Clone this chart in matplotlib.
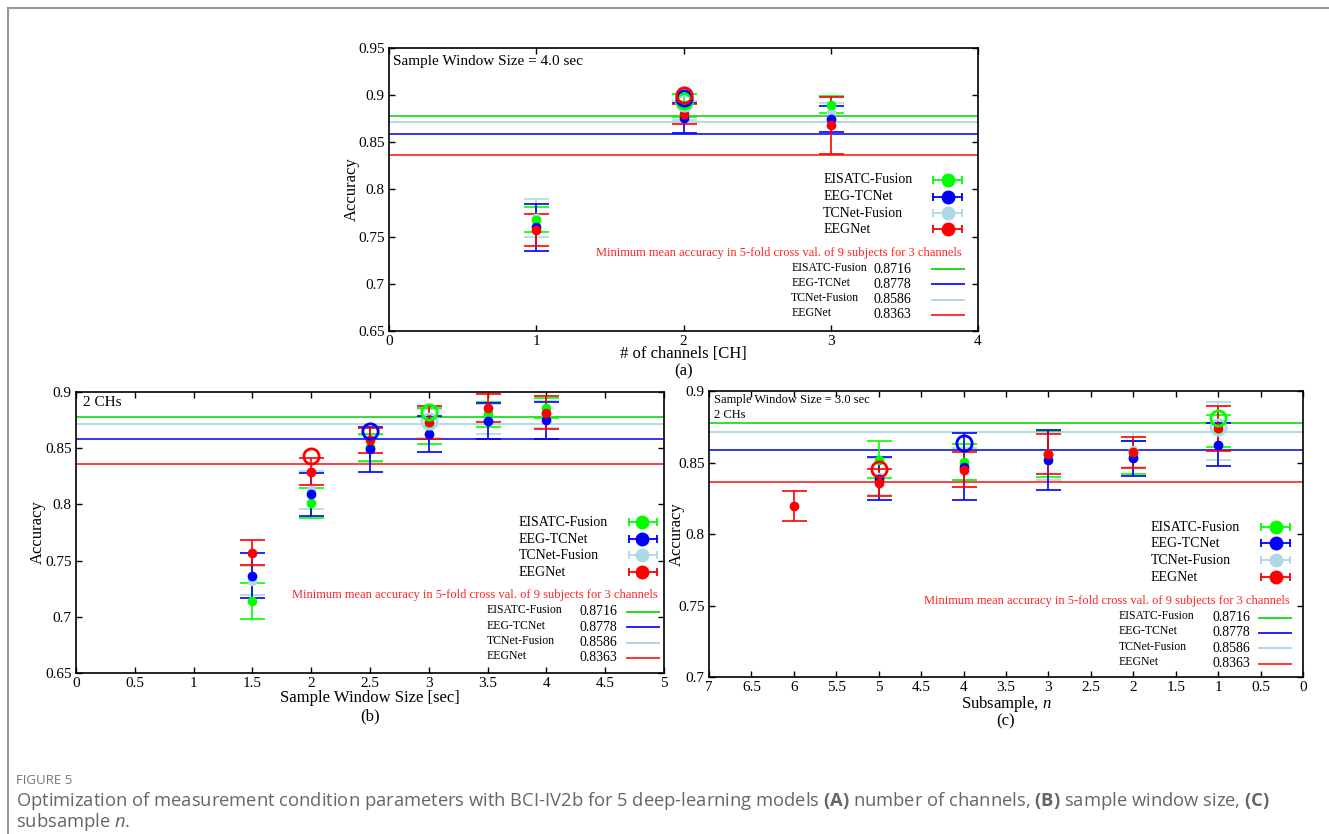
"""
Recreation of the three-panel accuracy figure (channels / window size / subsample)
with min-accuracy reference lines and gnuplot-like keys.
"""
import matplotlib.pyplot as plt
from matplotlib.lines import Line2D

plt.rcParams['font.family'] = ['Liberation Serif', 'DejaVu Serif']
plt.rcParams['mathtext.fontset'] = 'custom'
plt.rcParams['mathtext.it'] = 'Liberation Serif:italic'
plt.rcParams['mathtext.bf'] = 'Open Sans:bold'
plt.rcParams['mathtext.sf'] = 'Open Sans:italic'

# ---------------- data ----------------
models = ["EISATC-Fusion", "EEG-TCNet", "TCNet-Fusion", "EEGNet"]
colors = ["#00ff00", "#0000ff", "#add8e6", "#ff0000"]
line_colors = ["#22dd22", "#2222ff", "#add8e6", "#ff3333"]

# minimum mean accuracy lines as drawn (model order) and values printed in the key
line_levels = [0.8778, 0.8586, 0.8716, 0.8363]
key_values = ["0.8716", "0.8778", "0.8586", "0.8363"]
key_title = "Minimum mean accuracy in 5-fold cross val. of 9 subjects for 3 channels"

# (a) number of channels, window 4.0 s
ch = [1, 2, 3]
a_eisatc = [0.768, 0.889, 0.890]
a_eisatc_err = [0.013, 0.012, 0.009]
a_eegtcnet = [0.760, 0.8755, 0.875]
a_eegtcnet_err = [0.025, 0.016, 0.014]
a_tcnetfus = [0.770, 0.884, 0.882]
a_tcnetfus_err = [0.020, 0.010, 0.010]
a_eegnet = [0.757, 0.880, 0.868]
a_eegnet_err = [0.017, 0.011, 0.030]
a_best_x = [2, 2, 2, 2]
a_best_y = [0.8936, 0.8972, 0.8912, 0.8997]

# (b) sample window size, 2 channels
sws = [1.5, 2, 2.5, 3, 3.5, 4]
b_eisatc = [0.714, 0.801, 0.851, 0.870, 0.880, 0.8855]
b_eisatc_err = [0.016, 0.0135, 0.012, 0.016, 0.011, 0.009]
b_eegtcnet = [0.7366, 0.809, 0.849, 0.8626, 0.8745, 0.875]
b_eegtcnet_err = [0.020, 0.019, 0.020, 0.016, 0.016, 0.0165]
b_tcnetfus = [0.732, 0.813, 0.850, 0.872, 0.876, 0.880]
b_tcnetfus_err = [0.013, 0.017, 0.012, 0.013, 0.013, 0.012]
b_eegnet = [0.757, 0.829, 0.857, 0.873, 0.8855, 0.8816]
b_eegnet_err = [0.011, 0.012, 0.011, 0.0145, 0.0125, 0.0145]
b_best_x = [3, 2.5, 3, 2]
b_best_y = [0.882, 0.8656, 0.8745, 0.843]

# (c) subsample n, window 3.0 s, 2 channels
sub = [5, 4, 3, 2, 1]
sub_eegnet = [6, 5, 4, 3, 2, 1]
c_eisatc = [0.852, 0.8505, 0.856, 0.8535, 0.872]
c_eisatc_err = [0.013, 0.0125, 0.016, 0.0116, 0.011]
c_eegtcnet = [0.8385, 0.847, 0.8517, 0.8528, 0.8625]
c_eegtcnet_err = [0.015, 0.0234, 0.021, 0.0125, 0.015]
c_tcnetfus = [0.840, 0.849, 0.855, 0.859, 0.872]
c_tcnetfus_err = [0.013, 0.011, 0.017, 0.012, 0.020]
c_eegnet = [0.8197, 0.836, 0.845, 0.8559, 0.857, 0.8738]
c_eegnet_err = [0.0107, 0.0095, 0.012, 0.014, 0.011, 0.0157]
c_best_x = [1, 4, 1, 5]
c_best_y = [0.8809, 0.8636, 0.875, 0.8458]

caption_head = "FIGURE 5"
caption_1 = ("Optimization of measurement condition parameters with BCI-IV2b for 5 "
             "deep-learning models $\\mathbf{(A)}$ number of channels, "
             "$\\mathbf{(B)}$ sample window size, $\\mathbf{(C)}$")
caption_2 = "subsample $\\mathsf{n}$."


def draw_key(ax, k):
    """gnuplot-like key: model symbols, red title, then min-accuracy lines"""
    for i, name in enumerate(models):
        y = k['rows'][i]
        ax.text(k['text_x'], y, name, transform=ax.transAxes, fontsize=10,
                ha='left', va='center')
        ax.plot(k['bar'], [y, y], color=colors[i], lw=1.3, transform=ax.transAxes,
                clip_on=False)
        ax.plot(k['bar'], [y, y], ls='none', marker='|', ms=6, mew=1.3,
                color=colors[i], transform=ax.transAxes, clip_on=False)
        ax.plot([k['dot']], [y], 'o', ms=9, color=colors[i], transform=ax.transAxes,
                clip_on=False)
    ax.text(k['red_x'], k['red_y'], key_title, transform=ax.transAxes, fontsize=9,
            color='#ff2222', ha='right', va='center')
    for i, name in enumerate(models):
        y = k['lrows'][i]
        ax.text(k['name_x'], y + 0.006, name, transform=ax.transAxes, fontsize=8.5,
                ha='left', va='center')
        ax.text(k['value_x'], y, key_values[i], transform=ax.transAxes, fontsize=10,
                ha='left', va='center')
        ax.plot(k['sample'], [y, y], color=line_colors[i], lw=1.4,
                transform=ax.transAxes, clip_on=False)


def draw_panel(ax, series, best_x, best_y):
    for lvl, c in zip(line_levels, line_colors):
        ax.axhline(lvl, color=c, lw=1.3, zorder=1)
    # light blue first so it sits underneath
    for i in [2, 0, 1, 3]:
        x, y, e = series[i]
        ax.errorbar(x, y, yerr=e, fmt='o', color=colors[i], ms=6, capsize=9,
                    elinewidth=1.2, capthick=1.2, zorder=3)
    for i in [2, 0, 1, 3]:
        ax.plot(best_x[i], best_y[i], 'o', ms=11, mfc='none', mec=colors[i],
                mew=2, zorder=4)
    ax.tick_params(direction='in', top=True, right=True, length=4, width=1,
                   labelsize=11, pad=3)
    for s in ax.spines.values():
        s.set_linewidth(1.2)


def fmt(v):
    return f"{v:g}"


fig = plt.figure(figsize=(13.29, 8.34), dpi=100)

# outer frame (left and top only)
fig.add_artist(Line2D([8 / 1329, 8 / 1329], [0, 1 - 8 / 834], color='#999999', lw=1.5))
fig.add_artist(Line2D([8 / 1329, 1], [1 - 8 / 834, 1 - 8 / 834], color='#999999', lw=1.5))

# ---- (a) ----
ax_a = fig.add_axes([389 / 1329, 1 - 331 / 834, 589 / 1329, 283 / 834])
draw_panel(ax_a, [(ch, a_eisatc, a_eisatc_err), (ch, a_eegtcnet, a_eegtcnet_err),
                  (ch, a_tcnetfus, a_tcnetfus_err), (ch, a_eegnet, a_eegnet_err)],
           a_best_x, a_best_y)
ax_a.set_xlim(0, 4)
ax_a.set_ylim(0.65, 0.95)
ax_a.set_xticks([0, 1, 2, 3, 4])
yt = [0.65, 0.7, 0.75, 0.8, 0.85, 0.9, 0.95]
ax_a.set_yticks(yt)
ax_a.set_yticklabels([fmt(v) for v in yt])
ax_a.set_xlabel("# of channels [CH]", fontsize=12)
ax_a.xaxis.label.set_va('center')
ax_a.xaxis.set_label_coords(0.5, -0.08)
ax_a.set_ylabel("Accuracy", fontsize=12)
ax_a.yaxis.label.set_va('center')
ax_a.yaxis.set_label_coords(-0.063, 0.5)
ax_a.text(0.5, -0.142, "(a)", transform=ax_a.transAxes, ha='center', va='center',
          fontsize=12)
ax_a.text(0.007, 0.952, "Sample Window Size = 4.0 sec", transform=ax_a.transAxes,
          fontsize=11, ha='left', va='center')
draw_key(ax_a, dict(text_x=0.737, bar=[0.924, 0.973], dot=0.949,
                    rows=[0.534, 0.475, 0.416, 0.359], red_x=0.973, red_y=0.277,
                    name_x=0.683, value_x=0.823, sample=[0.922, 0.976],
                    lrows=[0.218, 0.165, 0.110, 0.057]))

# ---- (b) ----
ax_b = fig.add_axes([76 / 1329, 1 - 673 / 834, 588 / 1329, 281 / 834])
draw_panel(ax_b, [(sws, b_eisatc, b_eisatc_err), (sws, b_eegtcnet, b_eegtcnet_err),
                  (sws, b_tcnetfus, b_tcnetfus_err), (sws, b_eegnet, b_eegnet_err)],
           b_best_x, b_best_y)
ax_b.set_xlim(0, 5)
ax_b.set_ylim(0.65, 0.9)
xt = [0, 0.5, 1, 1.5, 2, 2.5, 3, 3.5, 4, 4.5, 5]
ax_b.set_xticks(xt)
ax_b.set_xticklabels([fmt(v) for v in xt])
yt = [0.65, 0.7, 0.75, 0.8, 0.85, 0.9]
ax_b.set_yticks(yt)
ax_b.set_yticklabels([fmt(v) for v in yt])
ax_b.set_xlabel("Sample Window Size [sec]", fontsize=12)
ax_b.xaxis.label.set_va('center')
ax_b.xaxis.set_label_coords(0.5, -0.09)
ax_b.set_ylabel("Accuracy", fontsize=12)
ax_b.yaxis.label.set_va('center')
ax_b.yaxis.set_label_coords(-0.065, 0.5)
ax_b.text(0.5, -0.155, "(b)", transform=ax_b.transAxes, ha='center', va='center',
          fontsize=12)
ax_b.text(0.012, 0.961, "2 CHs", transform=ax_b.transAxes, fontsize=11,
          ha='left', va='center')
draw_key(ax_b, dict(text_x=0.753, bar=[0.940, 0.988], dot=0.963,
                    rows=[0.536, 0.476, 0.419, 0.359], red_x=0.990, red_y=0.277,
                    name_x=0.699, value_x=0.857, sample=[0.937, 0.991],
                    lrows=[0.218, 0.163, 0.107, 0.054]))

# ---- (c) ----
ax_c = fig.add_axes([709 / 1329, 1 - 677 / 834, 594 / 1329, 286 / 834])
draw_panel(ax_c, [(sub, c_eisatc, c_eisatc_err), (sub, c_eegtcnet, c_eegtcnet_err),
                  (sub, c_tcnetfus, c_tcnetfus_err), (sub_eegnet, c_eegnet, c_eegnet_err)],
           c_best_x, c_best_y)
ax_c.set_xlim(7, 0)
ax_c.set_ylim(0.7, 0.9)
xt = [7, 6.5, 6, 5.5, 5, 4.5, 4, 3.5, 3, 2.5, 2, 1.5, 1, 0.5, 0]
ax_c.set_xticks(xt)
ax_c.set_xticklabels([fmt(v) for v in xt])
yt = [0.7, 0.75, 0.8, 0.85, 0.9]
ax_c.set_yticks(yt)
ax_c.set_yticklabels([fmt(v) for v in yt])
ax_c.set_xlabel("Subsample, $n$", fontsize=12)
ax_c.xaxis.label.set_va('center')
ax_c.xaxis.set_label_coords(0.5, -0.095)
ax_c.set_ylabel("Accuracy", fontsize=12)
ax_c.yaxis.label.set_va('center')
ax_c.yaxis.set_label_coords(-0.054, 0.5)
ax_c.text(0.5, -0.155, "(c)", transform=ax_c.transAxes, ha='center', va='center',
          fontsize=12)
ax_c.text(0.0076, 0.967, "Sample Window Size = 3.0 sec", transform=ax_c.transAxes,
          fontsize=9, ha='left', va='center')
ax_c.text(0.0076, 0.915, "2 CHs", transform=ax_c.transAxes, fontsize=9,
          ha='left', va='center')
draw_key(ax_c, dict(text_x=0.744, bar=[0.929, 0.978], dot=0.954,
                    rows=[0.523, 0.467, 0.408, 0.349], red_x=0.978, red_y=0.266,
                    name_x=0.690, value_x=0.847, sample=[0.926, 0.980],
                    lrows=[0.208, 0.155, 0.100, 0.047]))

# ---- caption ----
fig.text(16 / 1329, 1 - 781 / 834, caption_head, fontsize=9.5, color='#777777',
         family='Open Sans', ha='left', va='center')
fig.text(16 / 1329, 1 - 801 / 834, caption_1, fontsize=13.2, color='#666666',
         family='Open Sans', ha='left', va='center')
fig.text(16 / 1329, 1 - 822 / 834, caption_2, fontsize=13.2, color='#666666',
         family='Open Sans', ha='left', va='center')

fig.savefig("out.png", dpi=100)
plt.close(fig)
